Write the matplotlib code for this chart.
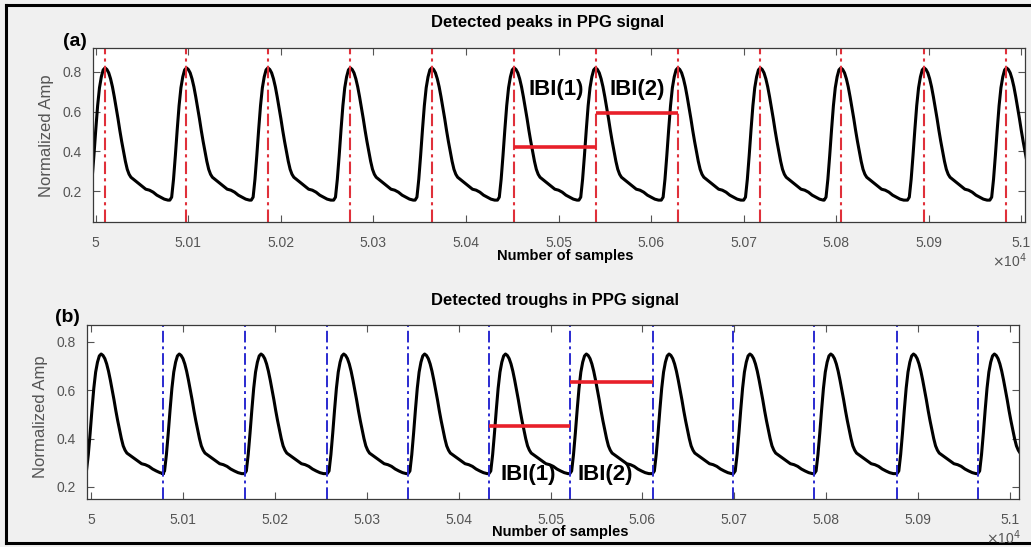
import numpy as np
import matplotlib
matplotlib.use("Agg")
import matplotlib.pyplot as plt
from matplotlib.lines import Line2D

plt.rcParams['font.family'] = ['Liberation Sans', 'DejaVu Sans']

# one beat of the PPG waveform, panel (a): offsets from the peak (samples) and amplitude
beat_offsets_a = [-18, -16, -14, -12, -10, -8, -6, -4, -2, 0, 2, 4, 6, 8, 10, 12, 14, 16,
                  18, 20, 22, 24, 26, 28, 32, 36, 40, 44, 48, 52, 56, 60, 64, 68]
beat_values_a = [0.155, 0.17, 0.26, 0.38, 0.51, 0.63, 0.72, 0.775, 0.81, 0.82, 0.812, 0.795,
                 0.765, 0.725, 0.675, 0.62, 0.565, 0.505, 0.45, 0.40, 0.35, 0.31, 0.285, 0.27,
                 0.255, 0.24, 0.225, 0.21, 0.205, 0.195, 0.18, 0.17, 0.16, 0.155]

# panel (b): offsets from the trough (samples) and amplitude
beat_offsets_b = [0, 2, 4, 6, 8, 10, 12, 14, 16, 18, 20, 22, 24, 26, 28, 30, 32, 34,
                  36, 38, 40, 42, 44, 46, 50, 54, 58, 62, 66, 70, 74, 78, 82, 86]
beat_values_b = [0.255, 0.266, 0.333, 0.422, 0.519, 0.608, 0.675, 0.716, 0.742, 0.750,
                 0.744, 0.731, 0.709, 0.679, 0.642, 0.601, 0.560, 0.515, 0.474, 0.437,
                 0.400, 0.370, 0.352, 0.340, 0.329, 0.318, 0.307, 0.296, 0.292, 0.285,
                 0.274, 0.266, 0.259, 0.255]

# detected peaks (a) and troughs (b), sample index
peaks = [50010, 50098, 50186, 50275, 50363, 50452, 50540, 50629, 50718, 50805, 50895, 50984]
troughs = [50078, 50167, 50257, 50345, 50433, 50521, 50611, 50699, 50787, 50877, 50965]
trough_before = 49993  # onset of the first, partly visible beat in (b)

# inter-beat intervals: (start, end, level)
ibi_a = [(50452, 50540, 0.42), (50540, 50629, 0.595)]
ibi_b = [(50433, 50521, 0.452), (50521, 50611, 0.636)]

xticks = [50000, 50100, 50200, 50300, 50400, 50500, 50600, 50700, 50800, 50900, 51000]
xticklabels = ['5', '5.01', '5.02', '5.03', '5.04', '5.05', '5.06', '5.07', '5.08', '5.09', '5.1']
yticks = [0.2, 0.4, 0.6, 0.8]

W, H = 1031, 547
fig = plt.figure(figsize=(W / 100, H / 100), dpi=100)
fig.patch.set_facecolor('#f0f0f0')

grey = '#555555'


def build(beats, offs, vals):
    xs, ys = [], []
    for b in beats:
        xs.extend([b + o for o in offs])
        ys.extend(vals)
    return np.array(xs), np.array(ys)


def style(ax, xlim, ylim):
    ax.set_facecolor('white')
    ax.set_xlim(*xlim)
    ax.set_ylim(*ylim)
    ax.set_xticks(xticks)
    ax.set_xticklabels(xticklabels)
    ax.set_yticks(yticks)
    ax.set_yticklabels(['0.2', '0.4', '0.6', '0.8'])
    ax.tick_params(direction='in', length=5, width=0.8, top=True, right=True,
                   colors=grey, labelsize=10, pad=8)
    ax.tick_params(axis='x', pad=10)
    for s in ax.spines.values():
        s.set_color('#3a3a3a')
        s.set_linewidth(0.9)


def px(x, y, w, h):
    return [x / W, 1 - (y + h) / H, w / W, h / H]


# ---- (a) peaks ----
ax1 = fig.add_axes(px(93, 48, 932, 174))
xa, ya = build(peaks, beat_offsets_a, beat_values_a)
ax1.plot(xa, ya, color='black', lw=2.2)
for p in peaks:
    ax1.axvline(p, color='#e0303a', ls=(0, (6, 2, 1.5, 2)), lw=1.5)
for s, e, lv in ibi_a:
    ax1.plot([s, e], [lv, lv], color='#e8202a', lw=2.6, solid_capstyle='butt')
style(ax1, (49997, 51004), (0.045, 0.92))
ax1.text(50497, 0.71, 'IBI(1)', ha='center', va='center', fontsize=16, fontweight='bold')
ax1.text(50585, 0.71, 'IBI(2)', ha='center', va='center', fontsize=16, fontweight='bold')

# ---- (b) troughs ----
ax2 = fig.add_axes(px(87, 325, 932, 174))
xb, yb = build([trough_before] + troughs, beat_offsets_b, beat_values_b)
ax2.plot(xb, yb, color='black', lw=2.2)
for t in troughs:
    ax2.axvline(t, color='#2a2ad0', ls=(0, (6, 2, 1.5, 2)), lw=1.4)
for s, e, lv in ibi_b:
    ax2.plot([s, e], [lv, lv], color='#e8202a', lw=2.6, solid_capstyle='butt')
style(ax2, (49995.6, 51009.8), (0.15, 0.87))
ax2.text(50476, 0.25, 'IBI(1)', ha='center', va='center', fontsize=16, fontweight='bold')
ax2.text(50560, 0.25, 'IBI(2)', ha='center', va='center', fontsize=16, fontweight='bold')

# titles, labels and panel letters
fig.text(548 / W, 1 - 23 / H, 'Detected peaks in PPG signal', ha='center', va='center',
         fontsize=12, fontweight='bold')
fig.text(555 / W, 1 - 300 / H, 'Detected troughs in PPG signal', ha='center', va='center',
         fontsize=12, fontweight='bold')
fig.text(75 / W, 1 - 41 / H, '(a)', ha='center', va='center', fontsize=14, fontweight='bold')
fig.text(67 / W, 1 - 317 / H, '(b)', ha='center', va='center', fontsize=14, fontweight='bold')
fig.text(565 / W, 1 - 256 / H, 'Number of samples', ha='center', va='center',
         fontsize=10.5, fontweight='bold')
fig.text(560 / W, 1 - 532 / H, 'Number of samples', ha='center', va='center',
         fontsize=10.5, fontweight='bold')
fig.text(47 / W, 1 - 136 / H, 'Normalized Amp', ha='center', va='center', rotation=90,
         fontsize=12, color=grey)
fig.text(40 / W, 1 - 417 / H, 'Normalized Amp', ha='center', va='center', rotation=90,
         fontsize=12, color=grey)
fig.text(1009 / W, 1 - 261 / H, r'$\times$10$^4$', ha='center', va='center',
         fontsize=10, color=grey)
fig.text(1003 / W, 1 - 538 / H, r'$\times$10$^4$', ha='center', va='center',
         fontsize=10, color=grey)

# outer frame
for xs_, ys_ in [([6, 6], [5, 543]), ([6, W], [5, 5]), ([6, W], [543, 543])]:
    fig.add_artist(Line2D([x / W for x in xs_], [1 - y / H for y in ys_],
                          color='black', lw=2.2, transform=fig.transFigure))

fig.savefig('out.png', dpi=100, facecolor=fig.get_facecolor())
